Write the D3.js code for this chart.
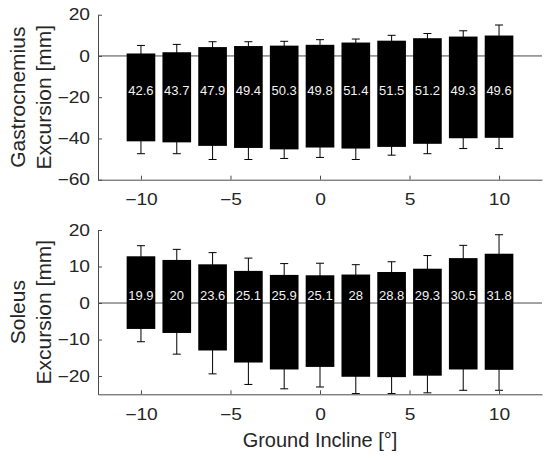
<!DOCTYPE html>
<html>
<head>
<meta charset="utf-8">
<script src="https://cdn.jsdelivr.net/npm/d3@7"></script>
<style>
  body { margin: 0; background: #fff; }
  text { font-family: "Liberation Sans", Arial, Helvetica, sans-serif; }
</style>
</head>
<body>
<script>
const svgWidth = 550;
const svgHeight = 458;

// ground incline (deg) for each bar
const inclines = [-10, -8, -6, -4, -2, 0, 2, 4, 6, 8, 10];

// gastrocnemius: bar top / bottom (mean max and min) and error bar ends
const gastroTop = [1.2, 1.8, 4.3, 4.8, 5.0, 5.4, 6.5, 7.4, 8.6, 9.4, 9.9];
const gastroBottom = [-41.4, -41.9, -43.6, -44.6, -45.3, -44.4, -44.9, -44.1, -42.6, -39.9, -39.7];
const gastroErrTop = [5.1, 5.6, 6.9, 6.9, 7.1, 7.9, 8.2, 10.0, 10.9, 12.2, 15.0];
const gastroErrBottom = [-47.4, -47.4, -50.2, -50.2, -49.7, -49.2, -50.2, -48.1, -47.4, -44.9, -44.9];
const gastroLabels = ["42.6", "43.7", "47.9", "49.4", "50.3", "49.8", "51.4", "51.5", "51.2", "49.3", "49.6"];

// soleus
const soleusTop = [12.8, 11.8, 10.6, 8.8, 7.7, 7.6, 7.8, 8.5, 9.4, 12.3, 13.5];
const soleusBottom = [-7.1, -8.2, -13.0, -16.3, -18.2, -17.5, -20.2, -20.3, -19.9, -18.2, -18.3];
const soleusErrTop = [15.7, 14.7, 13.8, 12.3, 10.8, 10.9, 10.5, 11.3, 13.0, 15.8, 18.7];
const soleusErrBottom = [-10.6, -14.0, -19.4, -22.3, -23.5, -23.0, -24.8, -24.8, -24.6, -23.9, -23.9];
const soleusLabels = ["19.9", "20", "23.6", "25.1", "25.9", "25.1", "28", "28.8", "29.3", "30.5", "31.8"];

const xTicks = [-10, -5, 0, 5, 10];
const gastroTicks = [-60, -40, -20, 0, 20];
const soleusTicks = [-20, -10, 0, 10, 20];

const left = 98;
const right = 542;
const barWidth = 1.6;
const axisColor = "#4a4a4a";
const textColor = "#262626";

const svg = d3.select("body").append("svg")
    .attr("width", svgWidth)
    .attr("height", svgHeight);

const x = d3.scaleLinear().domain([-12.4, 12.4]).range([left, right]);

// the reference text looks a bit wide, so stretch it along its line
function widen(sel, factor) {
    sel.each(function () {
        const w = this.getComputedTextLength();
        d3.select(this).attr("textLength", w * factor).attr("lengthAdjust", "spacingAndGlyphs");
    });
}

function drawPanel(opts) {
    const y = d3.scaleLinear().domain(opts.domain).range([opts.bottom, opts.top]);
    const g = svg.append("g");

    const rows = inclines.map(function (inc, i) {
        return {
            inc: inc,
            top: opts.barTop[i],
            bottom: opts.barBottom[i],
            errTop: opts.errTop[i],
            errBottom: opts.errBottom[i],
            label: opts.labels[i]
        };
    });

    // zero line
    g.append("line")
        .attr("x1", left).attr("x2", right)
        .attr("y1", y(0)).attr("y2", y(0))
        .attr("stroke", axisColor)
        .attr("stroke-width", 1);

    // error bars
    const err = g.selectAll(".err").data(rows).join("g").attr("class", "err")
        .attr("stroke", "#000").attr("stroke-width", 1);
    err.append("line")
        .attr("x1", d => x(d.inc)).attr("x2", d => x(d.inc))
        .attr("y1", d => y(d.errTop)).attr("y2", d => y(d.errBottom));
    err.append("line")
        .attr("x1", d => x(d.inc) - 4).attr("x2", d => x(d.inc) + 4)
        .attr("y1", d => y(d.errTop)).attr("y2", d => y(d.errTop));
    err.append("line")
        .attr("x1", d => x(d.inc) - 4).attr("x2", d => x(d.inc) + 4)
        .attr("y1", d => y(d.errBottom)).attr("y2", d => y(d.errBottom));

    // floating bars
    g.selectAll(".bar").data(rows).join("rect").attr("class", "bar")
        .attr("x", d => x(d.inc - barWidth / 2))
        .attr("width", d => x(d.inc + barWidth / 2) - x(d.inc - barWidth / 2))
        .attr("y", d => y(d.top))
        .attr("height", d => y(d.bottom) - y(d.top))
        .attr("fill", "#000");

    // excursion labels
    g.selectAll(".lbl").data(rows).join("text").attr("class", "lbl")
        .attr("x", d => x(d.inc))
        .attr("y", y(opts.labelY))
        .attr("dy", "0.35em")
        .attr("text-anchor", "middle")
        .attr("fill", "#f2f2f2")
        .style("font-size", "13px")
        .text(d => d.label);

    // axes
    const xAxis = g.append("g")
        .attr("transform", "translate(0," + opts.bottom + ")")
        .call(d3.axisBottom(x).tickValues(xTicks).tickSize(-4).tickSizeOuter(0).tickPadding(14)
            .tickFormat(d => d < 0 ? "\u2212" + Math.abs(d) : d));
    const yAxis = g.append("g")
        .attr("transform", "translate(" + left + ",0)")
        .call(d3.axisLeft(y).tickValues(opts.ticks).tickSize(-4).tickSizeOuter(0).tickPadding(8)
            .tickFormat(d => d < 0 ? "\u2212" + Math.abs(d) : d));
    [xAxis, yAxis].forEach(function (a) {
        a.select(".domain").attr("stroke", axisColor);
        a.selectAll(".tick line").attr("stroke", axisColor);
        a.selectAll(".tick text").attr("fill", textColor)
            .style("font-size", "16px")
            .call(widen, 1.2);
    });

    // y title, two lines
    const mid = (opts.top + opts.bottom) / 2;
    opts.title.forEach(function (line, i) {
        g.append("text")
            .attr("transform", "translate(" + (25 + i * 25.5) + "," + mid + ") rotate(-90)")
            .attr("text-anchor", "middle")
            .attr("fill", textColor)
            .style("font-size", "21px")
            .text(line);
    });
}

drawPanel({
    top: 14.7, bottom: 179.7, domain: [-60, 20], ticks: gastroTicks,
    barTop: gastroTop, barBottom: gastroBottom,
    errTop: gastroErrTop, errBottom: gastroErrBottom,
    labels: gastroLabels, labelY: -16.8,
    title: ["Gastrocnemius", "Excursion [mm]"]
});

drawPanel({
    top: 230, bottom: 394.3, domain: [-25, 20], ticks: soleusTicks,
    barTop: soleusTop, barBottom: soleusBottom,
    errTop: soleusErrTop, errBottom: soleusErrBottom,
    labels: soleusLabels, labelY: 2,
    title: ["Soleus", "Excursion [mm]"]
});

svg.append("text")
    .attr("x", (left + right) / 2)
    .attr("y", 447)
    .attr("text-anchor", "middle")
    .attr("fill", textColor)
    .style("font-size", "20px")
    .text("Ground Incline [\u00b0]");
</script>
</body>
</html>
